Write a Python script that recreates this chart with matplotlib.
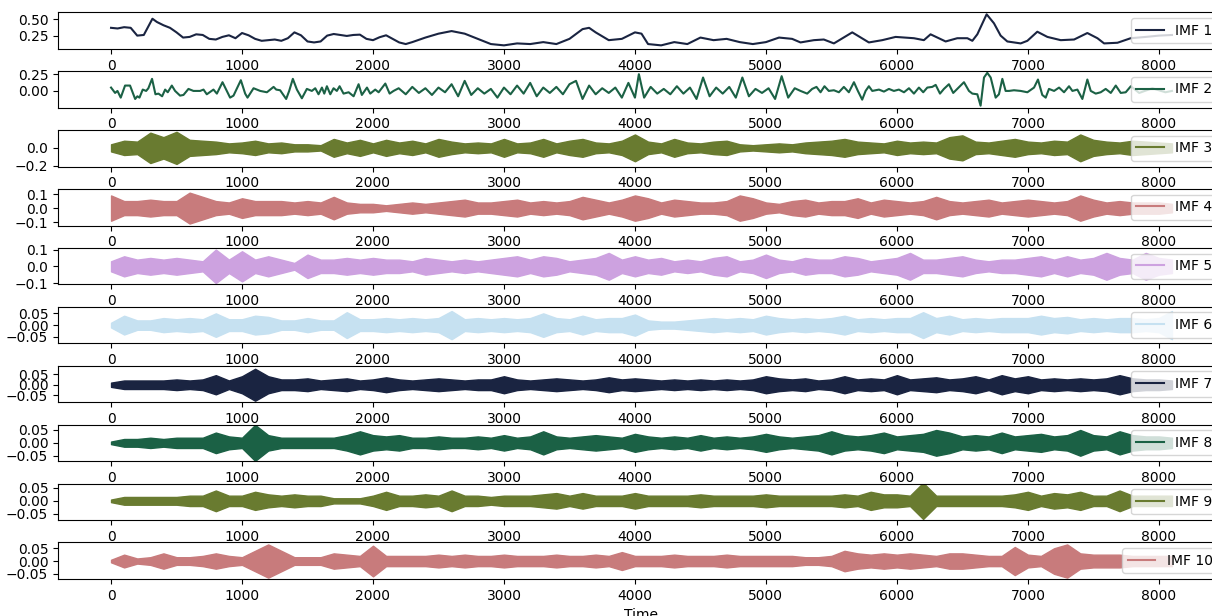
import numpy as np
import matplotlib
matplotlib.use("Agg")
import matplotlib.pyplot as plt
import seaborn as sns

# ---------------- data ----------------
labels = ["IMF 1", "IMF 2", "IMF 3", "IMF 4", "IMF 5",
          "IMF 6", "IMF 7", "IMF 8", "IMF 9", "IMF 10"]
x_ticks = [0, 1000, 2000, 3000, 4000, 5000, 6000, 7000, 8000]
y_ticks = [[0.25, 0.50], [0.00, 0.25], [-0.2, 0.0], [-0.1, 0.0, 0.1],
           [-0.1, 0.0, 0.1], [-0.05, 0.0, 0.05], [-0.05, 0.0, 0.05],
           [-0.05, 0.0, 0.05], [-0.05, 0.0, 0.05], [-0.05, 0.0, 0.05]]
y_limits = [(0.047, 0.609), (-0.25, 0.294), (-0.21, 0.199), (-0.124, 0.136),
            (-0.108, 0.11), (-0.0775, 0.078), (-0.082, 0.0895),
            (-0.071, 0.071), (-0.074, 0.067), (-0.07, 0.073)]

imf1_t = [0, 50, 100, 150, 200, 250, 316, 350, 400, 450, 500, 550, 600, 650,
          700, 750, 800, 850, 900, 950, 1000, 1050, 1100, 1150, 1200, 1250,
          1300, 1350, 1400, 1450, 1500, 1550, 1600, 1650, 1700, 1750, 1800,
          1850, 1900, 1950, 2000, 2050, 2100, 2150, 2200, 2250, 2300, 2400,
          2500, 2600, 2700, 2800, 2900, 3000, 3100, 3200, 3300, 3400, 3500,
          3600, 3650, 3700, 3800, 3900, 4000, 4050, 4100, 4200, 4300, 4400,
          4500, 4600, 4700, 4800, 4900, 5000, 5100, 5200, 5264, 5366, 5442,
          5519, 5659, 5786, 5888, 5990, 6130, 6206, 6257, 6372, 6461, 6538,
          6576, 6614, 6685, 6741, 6792, 6843, 6894, 6945, 6996, 7072, 7149,
          7251, 7353, 7454, 7531, 7582, 7684, 7785, 7900, 8000, 8100]
imf1_v = [0.37, 0.36, 0.38, 0.37, 0.25, 0.26, 0.51, 0.46, 0.41, 0.37, 0.30,
          0.22, 0.23, 0.27, 0.26, 0.20, 0.19, 0.23, 0.255, 0.21, 0.29, 0.255,
          0.20, 0.17, 0.18, 0.19, 0.17, 0.21, 0.30, 0.255, 0.16, 0.145, 0.16,
          0.25, 0.275, 0.26, 0.245, 0.26, 0.265, 0.20, 0.18, 0.225, 0.255,
          0.20, 0.145, 0.12, 0.15, 0.22, 0.28, 0.32, 0.28, 0.20, 0.12, 0.10,
          0.13, 0.12, 0.15, 0.12, 0.20, 0.35, 0.37, 0.30, 0.18, 0.20, 0.30,
          0.28, 0.12, 0.10, 0.15, 0.12, 0.22, 0.18, 0.20, 0.15, 0.12, 0.15,
          0.22, 0.20, 0.145, 0.18, 0.19, 0.13, 0.30, 0.145, 0.18, 0.23, 0.21,
          0.18, 0.27, 0.16, 0.21, 0.21, 0.17, 0.27, 0.578, 0.44, 0.25, 0.16,
          0.145, 0.13, 0.17, 0.31, 0.23, 0.18, 0.19, 0.29, 0.21, 0.13, 0.14,
          0.21, 0.23, 0.25, 0.26]

imf2_t = [0, 31, 49, 74, 107, 145, 184, 201, 217, 242, 268, 285, 313, 339,
          362, 390, 413, 433, 464, 489, 527, 553, 591, 629, 680, 706, 731,
          782, 808, 851, 884, 909, 935, 991, 1024, 1042, 1088, 1139, 1190,
          1241, 1261, 1291, 1337, 1360, 1388, 1419, 1457, 1495, 1533, 1559,
          1584, 1610, 1628, 1648, 1674, 1699, 1724, 1745, 1775, 1814, 1852,
          1890, 1915, 1954, 1979, 2017, 2043, 2094, 2127, 2157, 2196,
          2250, 2300, 2350, 2400, 2450, 2500, 2550, 2600, 2650, 2700, 2750,
          2800, 2850, 2900, 2950, 3000, 3050, 3100, 3150, 3200, 3250, 3300,
          3350, 3400, 3450, 3500, 3550, 3600, 3650, 3700, 3750, 3800, 3850,
          3900, 3950, 4000, 4030, 4070, 4120, 4170, 4220, 4270, 4320, 4370,
          4420, 4470, 4520, 4570, 4620, 4670, 4720, 4770, 4820, 4870, 4920,
          4970, 5020, 5070, 5120, 5170, 5220,
          5264, 5315, 5353, 5386, 5417, 5447, 5480, 5519, 5557, 5595, 5633,
          5672, 5702, 5735, 5761, 5786, 5812, 5863, 5901, 5939, 5977, 6015,
          6054, 6092, 6130, 6168, 6201, 6232, 6270, 6296, 6329, 6359, 6397,
          6430, 6461, 6512, 6550, 6576, 6614, 6639, 6665, 6690, 6716, 6754,
          6779, 6805, 6830, 6856, 6894, 6945, 6996, 7047, 7077, 7110, 7136,
          7161, 7200, 7238, 7276, 7314, 7340, 7378, 7416, 7454, 7480, 7518,
          7556, 7594, 7633, 7671, 7709, 7747, 7786, 7850, 7950, 8050, 8100]
imf2_v = [0.05, -0.03, 0.0, -0.1, 0.08, 0.08, -0.12, -0.08, -0.1, 0.02, 0.0,
          0.04, 0.18, -0.05, -0.04, -0.08, 0.02, -0.02, 0.08, 0.0, -0.07,
          -0.06, 0.03, 0.0, 0.0, 0.02, -0.05, 0.02, -0.04, 0.13, 0.0, -0.1,
          -0.07, 0.16, -0.04, -0.1, 0.04, 0.0, -0.02, 0.06, 0.02, 0.01, -0.12,
          0.0, 0.18, 0.02, -0.11, 0.03, 0.0, 0.04, -0.05, 0.05, -0.04, 0.07,
          -0.05, 0.04, 0.0, 0.07, -0.04, -0.02, -0.08, 0.1, -0.06, 0.05,
          -0.04, 0.02, -0.02, 0.11, -0.04, 0.0, 0.04,
          -0.05, 0.06, -0.03, 0.04, -0.06, 0.05, -0.02, 0.1, -0.08, 0.15,
          -0.06, 0.04, -0.04, 0.03, -0.1, 0.05, -0.05, 0.08, -0.04, 0.12,
          -0.08, 0.05, -0.03, 0.06, -0.05, 0.1, 0.15, -0.12, 0.08, -0.05,
          0.04, -0.03, 0.05, -0.1, 0.12, -0.1, 0.25, -0.1, 0.06, -0.04, 0.03,
          -0.05, 0.07, -0.04, 0.05, -0.12, 0.2, -0.08, 0.05, -0.04, 0.06,
          -0.1, 0.2, -0.08, 0.03, -0.03, 0.04, -0.12, 0.22, -0.1, 0.04,
          0.0, -0.04, 0.03, 0.06, -0.02, 0.07, 0.0, 0.01, -0.02, 0.06, -0.02,
          0.13, 0.0, -0.13, 0.0, 0.07, 0.0, 0.02, -0.01, 0.03, 0.0, 0.02,
          -0.02, 0.04, -0.04, 0.05, -0.02, 0.05, 0.06, 0.09, -0.04, 0.03,
          0.1, -0.03, 0.03, 0.13, 0.0, -0.04, -0.05, -0.22, 0.2, 0.27, 0.2,
          -0.1, -0.05, 0.18, 0.0, 0.0, 0.01, 0.0, -0.02, 0.05, 0.17, -0.06,
          -0.1, 0.03, 0.0, 0.05, -0.02, 0.07, 0.0, 0.02, -0.12, 0.17, 0.0,
          -0.04, -0.02, 0.03, -0.03, 0.08, -0.03, -0.02, 0.07, -0.03, 0.04,
          -0.02, 0.0]

# IMF 3 .. IMF 10: fast oscillations; amplitude envelope read every 100 samples
env_t = list(range(0, 8101, 100))
imf3_amp = [0.04, 0.08, 0.07, 0.17, 0.12, 0.18, 0.09, 0.08, 0.07, 0.05, 0.06,
            0.08, 0.05, 0.06, 0.04, 0.04, 0.03, 0.10, 0.06, 0.09, 0.05, 0.09,
            0.06, 0.08, 0.05, 0.10, 0.07, 0.05, 0.06, 0.05, 0.10, 0.05, 0.06,
            0.10, 0.05, 0.08, 0.10, 0.06, 0.05, 0.08, 0.15, 0.07, 0.05, 0.10,
            0.06, 0.05, 0.07, 0.08, 0.04, 0.03, 0.04, 0.05, 0.04, 0.06, 0.07,
            0.08, 0.10, 0.07, 0.06, 0.05, 0.08, 0.06, 0.07, 0.06, 0.12, 0.14,
            0.07, 0.06, 0.08, 0.10, 0.07, 0.06, 0.08, 0.07, 0.15, 0.09, 0.07,
            0.06, 0.08, 0.07, 0.06, 0.05]
imf4_amp = [0.09, 0.05, 0.05, 0.06, 0.05, 0.05, 0.11, 0.08, 0.05, 0.04, 0.07,
            0.05, 0.05, 0.05, 0.04, 0.05, 0.04, 0.08, 0.04, 0.03, 0.03, 0.02,
            0.03, 0.04, 0.03, 0.04, 0.05, 0.06, 0.04, 0.04, 0.05, 0.06, 0.04,
            0.05, 0.04, 0.05, 0.08, 0.06, 0.04, 0.06, 0.09, 0.07, 0.04, 0.06,
            0.05, 0.04, 0.04, 0.05, 0.09, 0.07, 0.04, 0.03, 0.05, 0.06, 0.04,
            0.05, 0.05, 0.07, 0.04, 0.06, 0.05, 0.04, 0.05, 0.08, 0.05, 0.04,
            0.05, 0.06, 0.04, 0.05, 0.06, 0.05, 0.04, 0.05, 0.09, 0.06, 0.04,
            0.05, 0.04, 0.04, 0.04, 0.03]
imf5_amp = [0.03, 0.06, 0.04, 0.05, 0.04, 0.05, 0.04, 0.03, 0.10, 0.04, 0.09,
            0.04, 0.06, 0.04, 0.02, 0.07, 0.04, 0.04, 0.05, 0.04, 0.05, 0.04,
            0.04, 0.03, 0.05, 0.04, 0.03, 0.04, 0.03, 0.04, 0.05, 0.06, 0.04,
            0.06, 0.05, 0.03, 0.04, 0.05, 0.08, 0.04, 0.06, 0.04, 0.05, 0.03,
            0.04, 0.03, 0.05, 0.06, 0.03, 0.04, 0.07, 0.04, 0.03, 0.05, 0.04,
            0.04, 0.06, 0.05, 0.03, 0.04, 0.05, 0.08, 0.04, 0.04, 0.05, 0.06,
            0.04, 0.03, 0.04, 0.04, 0.05, 0.06, 0.04, 0.06, 0.04, 0.05, 0.08,
            0.05, 0.04, 0.08, 0.05, 0.04]
imf6_amp = [0.01, 0.04, 0.02, 0.02, 0.03, 0.025, 0.03, 0.025, 0.05, 0.025,
            0.025, 0.04, 0.035, 0.02, 0.02, 0.03, 0.02, 0.02, 0.055, 0.025,
            0.025, 0.03, 0.025, 0.03, 0.025, 0.03, 0.06, 0.025, 0.03, 0.025,
            0.03, 0.025, 0.03, 0.05, 0.03, 0.025, 0.04, 0.025, 0.03, 0.03,
            0.045, 0.02, 0.015, 0.015, 0.02, 0.025, 0.03, 0.025, 0.03, 0.025,
            0.04, 0.03, 0.025, 0.03, 0.025, 0.03, 0.04, 0.025, 0.03, 0.025,
            0.03, 0.03, 0.055, 0.03, 0.04, 0.025, 0.03, 0.025, 0.03, 0.03,
            0.03, 0.04, 0.03, 0.035, 0.025, 0.03, 0.025, 0.03, 0.03, 0.025,
            0.03, 0.06]
imf7_amp = [0.01, 0.02, 0.02, 0.02, 0.02, 0.025, 0.02, 0.025, 0.045, 0.02,
            0.04, 0.075, 0.04, 0.025, 0.025, 0.03, 0.02, 0.025, 0.03, 0.02,
            0.025, 0.035, 0.025, 0.02, 0.025, 0.03, 0.025, 0.02, 0.025, 0.025,
            0.04, 0.025, 0.02, 0.025, 0.03, 0.025, 0.02, 0.025, 0.035, 0.025,
            0.03, 0.025, 0.02, 0.025, 0.02, 0.025, 0.02, 0.025, 0.02, 0.025,
            0.04, 0.03, 0.025, 0.03, 0.02, 0.025, 0.04, 0.025, 0.03, 0.025,
            0.045, 0.025, 0.03, 0.035, 0.025, 0.03, 0.04, 0.025, 0.045, 0.03,
            0.04, 0.025, 0.03, 0.025, 0.03, 0.025, 0.03, 0.045, 0.03, 0.025,
            0.025, 0.02]
imf8_amp = [0.005, 0.015, 0.015, 0.02, 0.015, 0.02, 0.02, 0.02, 0.04, 0.025,
            0.02, 0.07, 0.03, 0.02, 0.02, 0.02, 0.02, 0.02, 0.03, 0.045, 0.03,
            0.025, 0.03, 0.02, 0.02, 0.025, 0.02, 0.02, 0.025, 0.02, 0.03,
            0.02, 0.025, 0.045, 0.025, 0.02, 0.025, 0.03, 0.025, 0.02, 0.035,
            0.025, 0.02, 0.025, 0.02, 0.03, 0.02, 0.025, 0.02, 0.025, 0.035,
            0.025, 0.02, 0.025, 0.03, 0.045, 0.03, 0.025, 0.03, 0.04, 0.025,
            0.03, 0.035, 0.05, 0.04, 0.025, 0.03, 0.025, 0.04, 0.025, 0.03,
            0.035, 0.025, 0.03, 0.05, 0.03, 0.025, 0.045, 0.03, 0.025, 0.025,
            0.02]
imf9_amp = [0.005, 0.015, 0.015, 0.015, 0.015, 0.015, 0.02, 0.02, 0.04, 0.02,
            0.02, 0.035, 0.025, 0.02, 0.025, 0.02, 0.02, 0.01, 0.01, 0.01,
            0.02, 0.035, 0.02, 0.02, 0.025, 0.02, 0.04, 0.02, 0.02, 0.015,
            0.02, 0.02, 0.02, 0.025, 0.03, 0.02, 0.03, 0.02, 0.02, 0.02, 0.03,
            0.02, 0.02, 0.02, 0.02, 0.025, 0.02, 0.02, 0.02, 0.02, 0.025, 0.02,
            0.02, 0.02, 0.02, 0.02, 0.025, 0.02, 0.035, 0.025, 0.025, 0.02,
            0.07, 0.02, 0.02, 0.02, 0.02, 0.02, 0.02, 0.025, 0.035, 0.02, 0.03,
            0.025, 0.035, 0.02, 0.02, 0.04, 0.02, 0.02, 0.02, 0.02]
imf10_amp = [0.005, 0.025, 0.01, 0.015, 0.03, 0.015, 0.015, 0.02, 0.03, 0.02,
             0.015, 0.04, 0.065, 0.04, 0.015, 0.015, 0.015, 0.03, 0.025, 0.02,
             0.06, 0.02, 0.02, 0.02, 0.02, 0.025, 0.02, 0.025, 0.02, 0.02,
             0.025, 0.02, 0.02, 0.02, 0.025, 0.02, 0.02, 0.025, 0.02, 0.035,
             0.02, 0.02, 0.02, 0.025, 0.02, 0.02, 0.02, 0.025, 0.02, 0.02,
             0.02, 0.02, 0.02, 0.015, 0.015, 0.02, 0.04, 0.03, 0.025, 0.03,
             0.025, 0.03, 0.025, 0.02, 0.03, 0.03, 0.025, 0.02, 0.02, 0.055,
             0.025, 0.02, 0.05, 0.065, 0.03, 0.025, 0.025, 0.025, 0.02, 0.02,
             0.02, 0.02]
band_amps = [imf3_amp, imf4_amp, imf5_amp, imf6_amp, imf7_amp,
             imf8_amp, imf9_amp, imf10_amp]

# ---------------- figure ----------------
colors = sns.color_palette("cubehelix", 6)
W, H = 1212, 616
fig = plt.figure(figsize=(W / 100, H / 100), dpi=100)

left_px, right_px = 58, 1225
top0_px, pitch_px, height_px = 12.3, 58.9, 36.5

axes = []
for i in range(10):
    top = top0_px + i * pitch_px
    ax = fig.add_axes([left_px / W, 1 - (top + height_px) / H,
                       (right_px - left_px) / W, height_px / H])
    axes.append(ax)

for i, ax in enumerate(axes):
    c = colors[i % 6]
    if i == 0:
        ax.plot(imf1_t, imf1_v, color=c, lw=1.5, label=labels[i])
    elif i == 1:
        ax.plot(imf2_t, imf2_v, color=c, lw=1.5, label=labels[i])
    else:
        amp = np.array(band_amps[i - 2])
        ax.fill_between(env_t, -amp, amp, color=c, lw=1.0, edgecolor=c)
        ax.plot([], [], color=c, lw=1.5, label=labels[i])
    ax.set_xlim(-405, 8505)
    ax.set_ylim(*y_limits[i])
    ax.set_xticks(x_ticks)
    ax.set_yticks(y_ticks[i])
    ax.tick_params(labelsize=10)
    ax.legend(loc="center right", fontsize=10)

axes[-1].set_xlabel("Time", fontsize=10)

fig.savefig("out.png", dpi=100)
